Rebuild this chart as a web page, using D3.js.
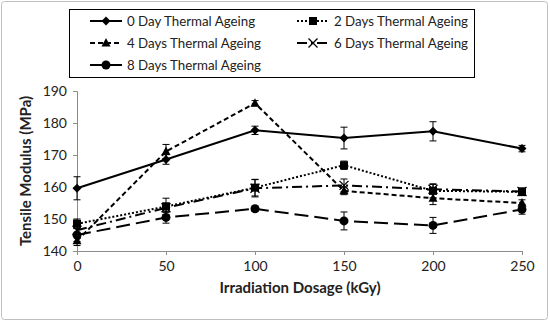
<!DOCTYPE html>
<html>
<head>
<meta charset="utf-8">
<script src="https://cdn.jsdelivr.net/npm/d3@7"></script>
<style>
  body { margin: 0; background: #fff; }
  svg { display: block; font-family: Lato, "Open Sans", sans-serif; }
</style>
</head>
<body>
<svg id="chart" width="550" height="322"></svg>
<script>
// irradiation dosage (kGy)
var doses = [0, 50, 100, 150, 200, 250];
var seriesNames = [
  "0 Day Thermal Ageing",
  "2 Days Thermal Ageing",
  "4 Days Thermal Ageing",
  "6 Days Thermal Ageing",
  "8 Days Thermal Ageing"
];
// tensile modulus (MPa)
var day0 = [159.6, 168.6, 177.7, 175.3, 177.4, 172.0];
var day2 = [148.5, 153.9, 159.8, 166.8, 158.8, 158.5];
var day4 = [143.2, 171.1, 186.2, 158.8, 156.5, 155.0];
var day6 = [146.5, 153.5, 159.6, 160.5, 159.3, 158.6];
var day8 = [145.0, 150.5, 153.2, 149.4, 148.0, 153.0];
// error bars (+/-)
var err0 = [3.6, 1.5, 1.3, 3.4, 3.0, 1.0];
var err2 = [1.5, 2.6, 2.6, 1.3, 2.2, 1.2];
var err4 = [1.5, 2.2, 0.8, 1.2, 2.0, 1.0];
var err6 = [1.5, 1.5, 2.7, 2.0, 1.5, 1.0];
var err8 = [2.0, 1.8, 0.8, 2.8, 2.5, 1.5];
var yTicks = [140, 150, 160, 170, 180, 190];

var values = [day0, day2, day4, day6, day8];
var errors = [err0, err2, err4, err6, err8];
var dashes = [null, "2,2", "5,3", "10,4,2,4", "14,6"];
var markers = ["diamond", "square", "triangle", "cross", "circle"];

var svg = d3.select("#chart");

svg.append("rect")
  .attr("x", 1.5).attr("y", 1.5)
  .attr("width", 546).attr("height", 318)
  .attr("rx", 3)
  .attr("fill", "#fff")
  .attr("stroke", "#bfbfbf");

var x = d3.scaleLinear().domain([0, 250]).range([77, 522]);
var y = d3.scaleLinear().domain([140, 190]).range([251, 91]);

// axes
var xAxis = d3.axisBottom(x).tickValues(doses).tickSizeOuter(0).tickSize(4).tickPadding(6);
var yAxis = d3.axisLeft(y).tickValues(yTicks).tickSizeOuter(0).tickSize(4).tickPadding(6);

var gx = svg.append("g").attr("transform", "translate(0,251)").call(xAxis);
var gy = svg.append("g").attr("transform", "translate(77,0)").call(yAxis);
[gx, gy].forEach(function (g) {
  g.selectAll("path, line").attr("stroke", "#8c8c8c");
  g.selectAll("text").attr("font-size", 14).attr("fill", "#222")
    .attr("font-family", "Lato, 'Open Sans', sans-serif");
});

svg.append("text")
  .attr("x", 300).attr("y", 293)
  .attr("text-anchor", "middle")
  .attr("font-size", 15).attr("font-weight", "bold").attr("fill", "#222")
  .text("Irradiation Dosage (kGy)");

svg.append("text")
  .attr("transform", "translate(31,171) rotate(-90)")
  .attr("text-anchor", "middle")
  .attr("font-size", 15).attr("font-weight", "bold").attr("fill", "#222")
  .text("Tensile Modulus (MPa)");

function drawMarker(g, type, cx, cy) {
  if (type === "diamond") {
    g.append("path").attr("d", "M" + cx + "," + (cy - 4.5) + "L" + (cx + 4.5) + "," + cy +
      "L" + cx + "," + (cy + 4.5) + "L" + (cx - 4.5) + "," + cy + "Z").attr("fill", "#000");
  } else if (type === "square") {
    g.append("rect").attr("x", cx - 4).attr("y", cy - 4).attr("width", 8).attr("height", 8).attr("fill", "#000");
  } else if (type === "triangle") {
    g.append("path").attr("d", "M" + cx + "," + (cy - 5) + "L" + (cx + 4.5) + "," + (cy + 3.5) +
      "L" + (cx - 4.5) + "," + (cy + 3.5) + "Z").attr("fill", "#000");
  } else if (type === "cross") {
    g.append("path").attr("d", "M" + (cx - 4.5) + "," + (cy - 4.5) + "L" + (cx + 4.5) + "," + (cy + 4.5) +
      "M" + (cx - 4.5) + "," + (cy + 4.5) + "L" + (cx + 4.5) + "," + (cy - 4.5))
      .attr("stroke", "#000").attr("stroke-width", 1.3).attr("fill", "none");
  } else {
    g.append("circle").attr("cx", cx).attr("cy", cy).attr("r", 4.5).attr("fill", "#000");
  }
}

var line = d3.line().x(function (d, i) { return x(doses[i]); }).y(function (d) { return y(d); });

values.forEach(function (vals, s) {
  var g = svg.append("g");
  // error bars
  vals.forEach(function (v, i) {
    var e = errors[s][i];
    var cx = x(doses[i]);
    g.append("path")
      .attr("d", "M" + cx + "," + y(v - e) + "V" + y(v + e) +
        "M" + (cx - 3.5) + "," + y(v - e) + "H" + (cx + 3.5) +
        "M" + (cx - 3.5) + "," + y(v + e) + "H" + (cx + 3.5))
      .attr("stroke", "#000").attr("stroke-width", 1).attr("fill", "none");
  });
  g.append("path")
    .attr("d", line(vals))
    .attr("fill", "none")
    .attr("stroke", "#000")
    .attr("stroke-width", 2)
    .attr("stroke-dasharray", dashes[s]);
  vals.forEach(function (v, i) {
    drawMarker(g, markers[s], x(doses[i]), y(v));
  });
});

// legend
svg.append("rect")
  .attr("x", 69.5).attr("y", 9.5)
  .attr("width", 405).attr("height", 68)
  .attr("fill", "#fff").attr("stroke", "#000").attr("stroke-width", 1);

var legendPos = [[90, 21], [297, 21], [90, 43], [297, 43], [90, 65]];
seriesNames.forEach(function (name, s) {
  var lx = legendPos[s][0], ly = legendPos[s][1];
  var g = svg.append("g");
  g.append("line")
    .attr("x1", lx).attr("x2", lx + 32).attr("y1", ly).attr("y2", ly)
    .attr("stroke", "#000").attr("stroke-width", 2)
    .attr("stroke-dasharray", dashes[s]);
  drawMarker(g, markers[s], lx + 16, ly);
  g.append("text")
    .attr("x", lx + 37).attr("y", ly + 5)
    .attr("font-size", 13.3).attr("fill", "#222")
    .text(name);
});
</script>
</body>
</html>
